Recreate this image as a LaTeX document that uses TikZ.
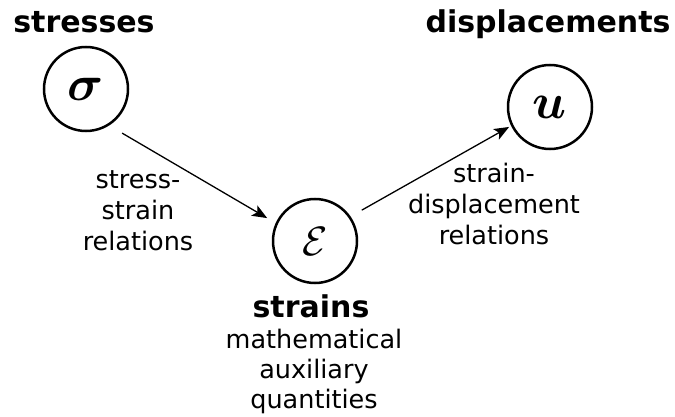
\documentclass[tikz,border=0pt]{standalone}
\usepackage{amsmath}
\usepackage{graphicx}
\usepackage{fontspec}
\setmainfont{DejaVu Sans}
\usetikzlibrary{arrows.meta,calc}

\begin{document}
\begin{tikzpicture}[x=1pt,y=1pt,
  qty/.style={circle, draw, line width=2.5pt, minimum size=84pt, inner sep=0pt},
  head/.style={font=\fontsize{30}{36}\selectfont\bfseries, inner sep=0pt},
  note/.style={font=\fontsize{25.5}{31}\selectfont, align=center, inner sep=0pt},
  rel/.style={-{Stealth[length=15pt,width=12pt,inset=3.5pt]}, line width=1.3pt}]
\useasboundingbox (0,0) rectangle (675,-417);

% the three quantities
\node[qty] (s) at (86,-89)  {\scalebox{5}{$\boldsymbol{\sigma}$}};
\node[qty] (u) at (550,-107) {\scalebox{5}{$\boldsymbol{u}$}};
\node[qty] (e) at (315,-241) {\scalebox{4.1}{$\mathcal{E}$}};

% headings
\node[head, anchor=base] (sh) at (84,-33)   {stresses};
\node[head, anchor=base] (uh) at (548,-33)  {displacements};
\node[head, anchor=base] (eh) at (311,-317) {strains};
\node[note, anchor=north, font=\fontsize{25.5}{30}\selectfont] (en) at (314,-329) {mathematical\\auxiliary\\quantities};

% relations
\coordinate (a1) at ($(s)+(-50.7:57)$);
\coordinate (b1) at ($(e)+(154.4:53)$);
\coordinate (a2) at ($(e)+(33.4:56)$);
\coordinate (b2) at ($(u)+(206:45.5)$);
\draw[rel] (a1) -- (b1);
\draw[rel] (a2) -- (b2);

\node[note, anchor=north] (l1) at (138,-170.5) {stress-\\strain\\relations};
\node[note, anchor=north] (l2) at (494,-163)   {strain-\\displacement\\relations};
\end{tikzpicture}
\end{document}
